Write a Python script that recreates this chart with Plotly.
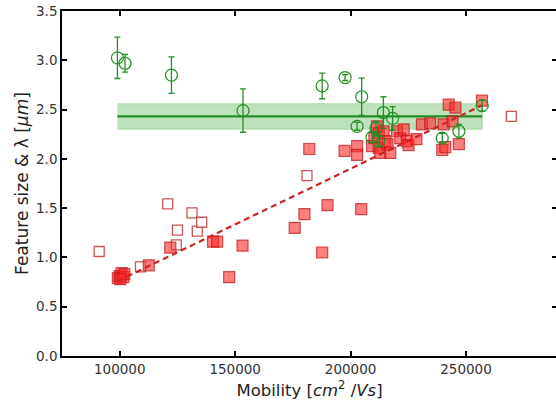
import plotly.graph_objects as go
import numpy as np

# Green: lambda with error bars
lam_x = [99000, 102300, 122400, 153400, 187700, 197600, 204800, 202800, 211000,
         214200, 218200, 209300, 212200, 239700, 246900, 257000]
lam_y = [3.025, 2.97, 2.85, 2.49, 2.74, 2.825, 2.63, 2.33, 2.31,
         2.47, 2.41, 2.22, 2.18, 2.21, 2.28, 2.54]
lam_err = [0.21, 0.09, 0.185, 0.22, 0.13, 0.03, 0.19, 0.04, 0.07,
           0.16, 0.12, 0.05, 0.05, 0.05, 0.07, 0.055]
lam_mean = 2.43
lam_band = 0.13

# Red filled squares: feature size
fs_x = [99200, 100000, 100800, 101500, 102000, 100300, 112600, 121900, 140400, 142200,
        153200, 147400, 175800, 180000, 182100, 190000, 187700, 204600, 197400,
        202800, 202800, 209300, 210300, 211400, 212200, 212200, 212900, 214300, 215000,
        216000, 217200, 220100, 221500, 223000, 224400, 225100, 228500, 230900, 234500,
        239700, 241000, 240300, 242500, 244200, 245400, 246900, 256900]
fs_y = [0.79, 0.81, 0.84, 0.80, 0.83, 0.78, 0.92, 1.10, 1.16, 1.16,
        1.12, 0.80, 1.30, 1.44, 2.10, 1.53, 1.05, 1.49, 2.08,
        2.13, 2.04, 2.13, 2.21, 2.33, 2.26, 2.11, 2.06, 2.28, 2.18,
        2.15, 2.06, 2.28, 2.21, 2.30, 2.18, 2.14, 2.20, 2.35, 2.36,
        2.09, 2.12, 2.35, 2.55, 2.38, 2.52, 2.15, 2.59]

# Red open squares
op_x = [91100, 109000, 120800, 124500, 125000, 131300, 133600, 135500, 181100, 269600]
op_y = [1.06, 0.905, 1.544, 1.128, 1.276, 1.452, 1.266, 1.357, 1.83, 2.43]

# Linear fit of feature size
fit_slope = 1.13e-5
fit_intercept = -0.36

green = "rgb(34,145,34)"

fig = go.Figure()

# green band
bx = [min(lam_x), max(lam_x), max(lam_x), min(lam_x)]
by = [lam_mean - lam_band, lam_mean - lam_band, lam_mean + lam_band, lam_mean + lam_band]
fig.add_trace(go.Scatter(x=bx, y=by, fill="toself", mode="lines",
                         fillcolor="rgba(40,160,40,0.30)",
                         line=dict(width=0.8, color="rgba(40,160,40,0.35)"),
                         hoverinfo="skip", showlegend=False))
fig.add_trace(go.Scatter(x=[min(lam_x), max(lam_x)], y=[lam_mean, lam_mean],
                         mode="lines", line=dict(color=green, width=2.2),
                         showlegend=False))

# open squares
fig.add_trace(go.Scatter(x=op_x, y=op_y, mode="markers",
                         marker=dict(symbol="square", size=10, color="rgba(255,255,255,0.9)",
                                     line=dict(color="rgba(190,40,40,0.8)", width=1.3)),
                         showlegend=False))
# filled squares
fig.add_trace(go.Scatter(x=fs_x, y=fs_y, mode="markers",
                         marker=dict(symbol="square", size=11, color="rgba(255,40,40,0.6)",
                                     line=dict(color="rgba(190,20,20,0.7)", width=1.2)),
                         showlegend=False))

# fit line
fx = np.array([min(fs_x), max(fs_x)])
fig.add_trace(go.Scatter(x=fx, y=fit_slope * fx + fit_intercept, mode="lines",
                         line=dict(color="rgb(205,35,35)", width=2.2, dash="6px,4px"),
                         showlegend=False))

# green circles
fig.add_trace(go.Scatter(x=lam_x, y=lam_y, mode="markers",
                         error_y=dict(type="data", array=lam_err, color=green,
                                      thickness=1.3, width=3),
                         marker=dict(symbol="circle-open", size=12, color=green,
                                     line=dict(width=1.2, color=green)),
                         showlegend=False))

axis_common = dict(showline=True, linecolor="black", linewidth=1.6, mirror="ticks",
                   ticks="inside", ticklen=5, tickwidth=1.6, tickcolor="black",
                   showgrid=False, zeroline=False, automargin=False,
                   tickfont=dict(family="DejaVu Sans", size=13.5, color="#333333"))

fig.update_xaxes(range=[75000, 289400], tickvals=[100000, 150000, 200000, 250000],
                 ticktext=["100000", "150000", "200000", "250000"],
                 title=dict(text="Mobility [<i>cm</i><sup>2</sup> /<i>Vs</i>]",
                            font=dict(family="DejaVu Sans", size=16.5, color="#222222"),
                            standoff=8),
                 **axis_common)
fig.update_yaxes(range=[0, 3.5], tickvals=[0, 0.5, 1.0, 1.5, 2.0, 2.5, 3.0, 3.5],
                 ticktext=["0.0", "0.5", "1.0", "1.5", "2.0", "2.5", "3.0", "3.5"],
                 title=dict(text="Feature size & λ [<i>μm</i>]",
                            font=dict(family="DejaVu Sans", size=17, color="#222222"),
                            standoff=3),
                 **axis_common)

fig.update_layout(width=557, height=408, margin=dict(l=62, r=0, t=11, b=52),
                  plot_bgcolor="white", paper_bgcolor="white")

fig.write_html("out.html", config={"displayModeBar": False},
               post_script="document.body.style.margin='0px';document.body.style.overflow='hidden';")
